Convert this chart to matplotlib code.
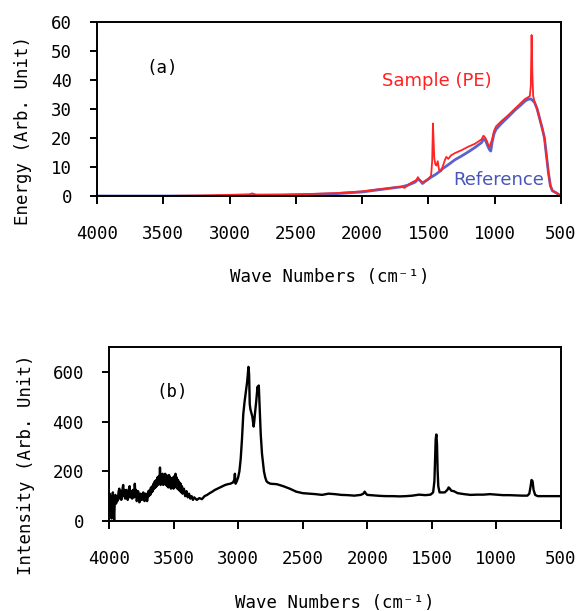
import matplotlib.pyplot as plt

# (a) energy spectra, reference vs sample
ref_wn = [4000, 3500, 3200, 3000, 2800, 2600, 2400, 2200, 2000, 1900, 1800, 1700,
          1650, 1600, 1580, 1560, 1545, 1520, 1500, 1480, 1450, 1420, 1400, 1350,
          1300, 1250, 1200, 1150, 1100, 1085, 1070, 1055, 1040, 1030, 1020, 1005,
          990, 950, 900, 850, 800, 770, 750, 730, 715, 700, 680, 660, 640, 625,
          610, 595, 580, 565, 540, 520, 500]
ref_val = [0, 0, 0, 0.1, 0.2, 0.3, 0.5, 0.8, 1.4, 2.0, 2.6, 3.2,
           3.8, 4.8, 5.8, 5.2, 4.3, 5.2, 5.8, 6.5, 7.3, 8.3, 9.2, 10.8,
           12.5, 13.8, 15.2, 16.7, 18.4, 19.6, 19.2, 17.5, 16.0, 15.5, 18.5, 21.5,
           23.0, 25.0, 27.2, 29.5, 31.5, 32.8, 33.3, 33.5, 33.0, 32.3, 30.0, 26.5, 23.0, 20.0,
           14.0, 8.0, 3.5, 1.8, 1.2, 0.6, 0]

pe_wn = [4000, 3500, 3200, 3000, 2850, 2830, 2800, 2600, 2400, 2200, 2000, 1900,
         1800, 1750, 1700, 1680, 1650, 1620, 1590, 1580, 1565, 1550, 1530, 1500,
         1480, 1472, 1466, 1462, 1456, 1448, 1440, 1430, 1420, 1405, 1390, 1375,
         1365, 1350, 1330, 1300, 1250, 1200, 1150, 1100, 1085, 1070, 1055, 1045,
         1035, 1020, 1005, 990, 950, 900, 850, 800, 770, 750, 735, 728, 722, 716,
         710, 700, 680, 660, 640, 625, 610, 595, 580, 565, 540, 520, 500]
pe_val = [0, 0, 0.2, 0.4, 0.6, 0.9, 0.5, 0.5, 0.7, 1.0, 1.6, 2.2,
          2.7, 3.0, 3.2, 2.8, 4.0, 4.8, 5.5, 6.5, 5.5, 4.8, 5.0, 6.0,
          7.0, 12.0, 25.0, 20.0, 13.0, 11.0, 10.5, 12.0, 9.0, 8.5, 10.5, 12.5,
          13.5, 12.8, 14.0, 14.8, 15.8, 17.0, 18.0, 19.5, 20.8, 20.0, 18.5, 17.0,
          17.5, 19.5, 22.5, 24.0, 25.8, 27.8, 30.0, 32.2, 33.5, 34.0, 34.5, 38.0, 55.5, 42.0,
          34.5, 32.5, 30.0, 26.5, 23.0, 20.0, 14.0, 8.0, 3.5, 1.8, 1.2, 0.6, 0]

# (b) intensity spectrum
int_wn = [4000, 3995, 3990, 3985, 3980, 3975, 3970, 3965, 3960, 3955, 3950, 3945,
          3940, 3935, 3930, 3925, 3920, 3915, 3910, 3905, 3900, 3895, 3890, 3885,
          3880, 3875, 3870, 3865, 3860, 3855, 3850, 3845, 3840, 3835, 3830, 3825,
          3820, 3815, 3810, 3805, 3800, 3795, 3790, 3785, 3780, 3775, 3770, 3765,
          3760, 3755, 3750, 3745, 3740, 3735, 3730, 3725, 3720, 3715, 3710, 3705,
          3700, 3695, 3690, 3685, 3680, 3675, 3670, 3665, 3660, 3655, 3650, 3645,
          3640, 3635, 3630, 3625, 3620, 3615, 3610, 3605, 3600, 3595, 3590, 3585,
          3580, 3575, 3570, 3565, 3560, 3555, 3550, 3545, 3540, 3535, 3530, 3525,
          3520, 3515, 3510, 3505, 3500, 3495, 3490, 3485, 3480, 3475, 3470, 3465,
          3460, 3455, 3450, 3445, 3440, 3435, 3430, 3420, 3410, 3400, 3390, 3380,
          3370, 3360, 3350, 3340, 3320, 3300, 3280, 3260, 3240, 3220, 3200, 3180,
          3160, 3140, 3120, 3100, 3080, 3060, 3040, 3030, 3025, 3020, 3010, 3000,
          2990, 2980, 2970, 2960, 2950, 2940, 2930, 2925, 2920, 2915, 2910, 2905,
          2900, 2890, 2880, 2875, 2870, 2860, 2850, 2845, 2840, 2835, 2825, 2815,
          2800, 2790, 2780, 2770, 2750, 2700, 2650, 2600, 2550, 2500, 2450, 2400,
          2350, 2300, 2250, 2200, 2150, 2100, 2050, 2030, 2020, 2010, 2000, 1950,
          1900, 1850, 1800, 1750, 1700, 1650, 1600, 1550, 1510, 1490, 1480, 1475,
          1470, 1465, 1460, 1455, 1450, 1440, 1420, 1400, 1380, 1370, 1360, 1350,
          1330, 1300, 1250, 1200, 1150, 1100, 1050, 1000, 950, 900, 850, 800,
          760, 745, 735, 728, 720, 712, 700, 680, 650, 600, 550, 500]
int_val = [60, 110, 40, 100, 10, 90, 115, 60, 0, 80, 105, 70,
           100, 80, 95, 120, 130, 90, 120, 85, 100, 130, 145, 100,
           125, 90, 95, 125, 115, 85, 100, 130, 140, 95, 120, 100,
           90, 125, 110, 95, 150, 100, 125, 80, 95, 120, 110, 75,
           80, 110, 105, 85, 90, 115, 110, 80, 85, 110, 100, 80,
           95, 120, 100, 125, 105, 135, 115, 140, 120, 150, 130, 160,
           135, 165, 140, 175, 145, 180, 150, 215, 145, 185, 150, 190,
           145, 180, 150, 190, 145, 185, 140, 180, 135, 185, 140, 175,
           130, 170, 135, 175, 130, 180, 140, 190, 135, 175, 130, 165,
           125, 155, 120, 150, 115, 140, 110, 130, 100, 120, 95, 110,
           90, 100, 85, 95, 85, 92, 88, 100, 105, 112, 118, 125,
           130, 135, 140, 145, 148, 150, 155, 165, 190, 150, 160, 175,
           200, 250, 330, 430, 480, 520, 560, 590, 620, 590, 470, 450,
           440, 420, 380, 400, 430, 480, 540, 530, 545, 480, 350, 270,
           200, 175, 160, 155, 150, 148, 140, 130, 118, 112, 110, 108,
           105, 110, 108, 105, 104, 102, 105, 110, 118, 110, 105, 103,
           101, 100, 100, 99, 100, 102, 106, 104, 106, 115, 160, 250,
           330, 348, 310, 200, 140, 115, 115, 115, 125, 135, 130, 122,
           120, 112, 108, 105, 106, 106, 108, 106, 104, 104, 103, 102,
           102, 110, 140, 165, 160, 125, 105, 100, 100, 100, 100, 100]

mono = "DejaVu Sans Mono"
plt.rcParams["font.family"] = mono
plt.rcParams["font.size"] = 12.5

fig = plt.figure(figsize=(5.76, 6.11), dpi=100)
ax1 = fig.add_axes([0.1684, 0.6792, 0.8056, 0.2848])
ax2 = fig.add_axes([0.1892, 0.1473, 0.7847, 0.2848])

ax1.plot(ref_wn, ref_val, color="#5a64c8", lw=2.0)
ax1.plot(pe_wn, pe_val, color="#ff2424", lw=1.3)
ax1.set_xlim(4000, 500)
ax1.set_ylim(0, 60)
ax1.set_yticks(range(0, 61, 10))
ax1.set_xticks(range(4000, 499, -500))
ax1.text(3510, 44, "(a)", ha="center", va="center")
ax1.text(1435, 39.7, "Sample (PE)", color="#ff2020", family="DejaVu Sans",
         fontsize=13, ha="center", va="center")
ax1.text(968, 5.5, "Reference", color="#4a55b5", family="DejaVu Sans",
         fontsize=13, ha="center", va="center")
ax1.set_xlabel("Wave Numbers (cm⁻¹)", va="center")
ax1.xaxis.set_label_coords(0.502, -0.466)
ax1.set_ylabel("Energy (Arb. Unit)", va="center")
ax1.yaxis.set_label_coords(-0.159, 0.379)

ax2.plot(int_wn, int_val, color="black", lw=1.7)
ax2.set_xlim(4000, 500)
ax2.set_ylim(0, 700)
ax2.set_yticks(range(0, 601, 200))
ax2.set_xticks(range(4000, 499, -500))
ax2.text(3512, 519, "(b)", ha="center", va="center")
ax2.set_xlabel("Wave Numbers (cm⁻¹)", va="center")
ax2.xaxis.set_label_coords(0.499, -0.471)
ax2.set_ylabel("Intensity (Arb. Unit)", va="center")
ax2.yaxis.set_label_coords(-0.184, 0.322)

for ax in (ax1, ax2):
    for s in ax.spines.values():
        s.set_linewidth(1.4)
    ax.tick_params(axis="y", direction="out", length=5, width=1.4, pad=13)
    ax.tick_params(axis="x", direction="out", length=6, width=1.4, pad=15)

fig.savefig("out.png", dpi=100)
